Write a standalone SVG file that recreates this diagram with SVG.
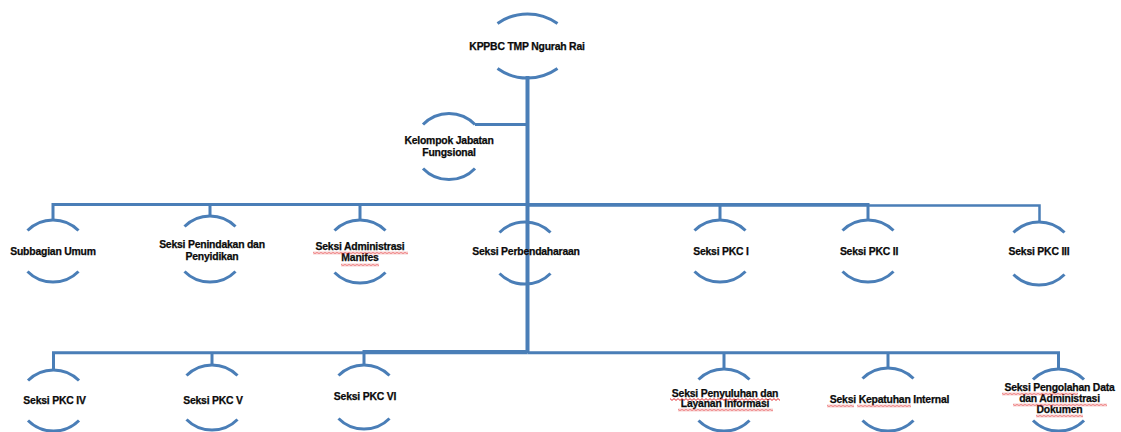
<svg xmlns="http://www.w3.org/2000/svg" width="1121" height="432" viewBox="0 0 1121 432">
<defs>
<style>
.arc{fill:none;stroke:#4a7eb7;stroke-width:3}
.ln{fill:none;stroke:#4a7eb7;stroke-width:3;stroke-linecap:butt}
.tr{fill:none;stroke:#4a7eb7;stroke-width:4}
text{font-family:"Liberation Sans",Arial,sans-serif;font-weight:bold;font-size:10.4px;fill:#0a0a0a;text-anchor:middle;letter-spacing:-0.2px;stroke:#0a0a0a;stroke-width:0.25px}
.sq{fill:url(#sq)}
</style>
<pattern id="sq" patternUnits="userSpaceOnUse" width="4" height="3">
<path d="M0 0.6 L2 2.4 L4 0.6" fill="none" stroke="#e0282a" stroke-width="1"/>
</pattern>
</defs>
<rect width="1121" height="432" fill="#fff"/>
<g id="connectors">
<path class="tr" d="M527.5 76 V353"/>
<path class="ln" d="M475 124.5 H527.5"/>
<path class="ln" d="M53 220 V204.5 H868 V220"/>
<path class="ln" d="M210 216 V204.5 M360 220 V204.5 M720 220 V204.5"/>
<path class="ln" style="stroke-width:2.5" d="M527.5 205.5 H1039.5 V222"/>
<path class="ln" d="M53.5 370 V352.8 H527.5"/>
<path class="ln" d="M364 365 V351.5 H527.5"/>
<path class="ln" d="M212 365 V352.8"/>
<path class="ln" d="M527.5 352.8 H1058.5 V369 M724 352.8 V369 M888 352.8 V368"/>
</g>
<g id="n-root">
<path class="arc" d="M497.5 23.5 A52 52 0 0 1 557.5 23.5"/>
<path class="arc" d="M497.5 68.5 A52 52 0 0 0 557.5 68.5"/>
<text x="527" y="49.5">KPPBC TMP Ngurah Rai</text>
</g>
<g id="n-kjf">
<path class="arc" d="M423 124.5 A36 36 0 0 1 475 124.5"/>
<path class="arc" d="M423 168.5 A36 36 0 0 0 475 168.5"/>
<text x="449" y="143.5">Kelompok Jabatan</text>
<text x="449" y="155.5">Fungsional</text>
</g>
<g id="n-umum">
<path class="arc" d="M27.5 230.5 A36 36 0 0 1 78.5 230.5"/>
<path class="arc" d="M27.5 271.5 A36 36 0 0 0 78.5 271.5"/>
<text x="53" y="254.5">Subbagian Umum</text>
</g>
<g id="n-p2">
<path class="arc" d="M184.5 226.5 A36 36 0 0 1 235.5 226.5"/>
<path class="arc" d="M184.5 271.5 A36 36 0 0 0 235.5 271.5"/>
<text x="212" y="247.5">Seksi Penindakan dan</text>
<text x="212" y="259.5">Penyidikan</text>
</g>
<g id="n-adm">
<path class="arc" d="M334.5 230.5 A36 36 0 0 1 385.5 230.5"/>
<path class="arc" d="M334.5 272.5 A36 36 0 0 0 385.5 272.5"/>
<text x="360" y="249.5">Seksi Administrasi</text>
<text x="360" y="261">Manifes</text>
<rect class="sq" transform="translate(313 251.5)" width="95" height="3"/>
<rect class="sq" transform="translate(341 263.5)" width="38" height="3"/>
</g>
<g id="n-perb">
<path class="arc" d="M499.5 232.5 A36 36 0 0 1 550.5 232.5"/>
<path class="arc" d="M499.5 273.5 A36 36 0 0 0 550.5 273.5"/>
<text x="526" y="254.5">Seksi Perbendaharaan</text>
</g>
<g id="n-pkc1">
<path class="arc" d="M694.5 230.5 A36 36 0 0 1 745.5 230.5"/>
<path class="arc" d="M694.5 271.5 A36 36 0 0 0 745.5 271.5"/>
<text x="721" y="254.5">Seksi PKC I</text>
</g>
<g id="n-pkc2">
<path class="arc" d="M842.5 230.5 A36 36 0 0 1 893.5 230.5"/>
<path class="arc" d="M842.5 271.5 A36 36 0 0 0 893.5 271.5"/>
<text x="869" y="254.5">Seksi PKC II</text>
</g>
<g id="n-pkc3">
<path class="arc" d="M1013.5 232.5 A36 36 0 0 1 1064.5 232.5"/>
<path class="arc" d="M1013.5 274.5 A36 36 0 0 0 1064.5 274.5"/>
<text x="1039" y="255">Seksi PKC III</text>
</g>
<g id="n-pkc4">
<path class="arc" d="M28 380.5 A36 36 0 0 1 79 380.5"/>
<path class="arc" d="M28 420.5 A36 36 0 0 0 79 420.5"/>
<text x="54.5" y="403.5">Seksi PKC IV</text>
</g>
<g id="n-pkc5">
<path class="arc" d="M186.5 375.5 A36 36 0 0 1 237.5 375.5"/>
<path class="arc" d="M186.5 419.5 A36 36 0 0 0 237.5 419.5"/>
<text x="213" y="403.5">Seksi PKC V</text>
</g>
<g id="n-pkc6">
<path class="arc" d="M338.5 375.5 A36 36 0 0 1 389.5 375.5"/>
<path class="arc" d="M338.5 418.5 A36 36 0 0 0 389.5 418.5"/>
<text x="365" y="400">Seksi PKC VI</text>
</g>
<g id="n-pli">
<path class="arc" d="M698.5 379.5 A36 36 0 0 1 749.5 379.5"/>
<path class="arc" d="M698.5 420.5 A36 36 0 0 0 749.5 420.5"/>
<text x="725" y="396.5">Seksi Penyuluhan dan</text>
<text x="725" y="406.5">Layanan Informasi</text>
<rect class="sq" transform="translate(670 398)" width="110" height="3"/>
<rect class="sq" transform="translate(678 408.5)" width="95" height="3"/>
</g>
<g id="n-kpi">
<path class="arc" d="M862.5 378.5 A36 36 0 0 1 913.5 378.5"/>
<path class="arc" d="M862.5 420.5 A36 36 0 0 0 913.5 420.5"/>
<text x="889.5" y="402.5">Seksi Kepatuhan Internal</text>
<rect class="sq" transform="translate(827 404.5)" width="27" height="3"/>
<rect class="sq" transform="translate(857 404.5)" width="54" height="3"/>
</g>
<g id="n-pda">
<path class="arc" d="M1033 379.5 A36 36 0 0 1 1084 379.5"/>
<path class="arc" d="M1033 420.5 A36 36 0 0 0 1084 420.5"/>
<text x="1059.5" y="391">Seksi Pengolahan Data</text>
<text x="1059.5" y="402">dan Administrasi</text>
<text x="1059.5" y="413">Dokumen</text>
<rect class="sq" transform="translate(1002 392.5)" width="76" height="3"/>
<rect class="sq" transform="translate(1013 403.5)" width="94" height="3"/>
<rect class="sq" transform="translate(1036 414.5)" width="47" height="3"/>
</g>
</svg>
